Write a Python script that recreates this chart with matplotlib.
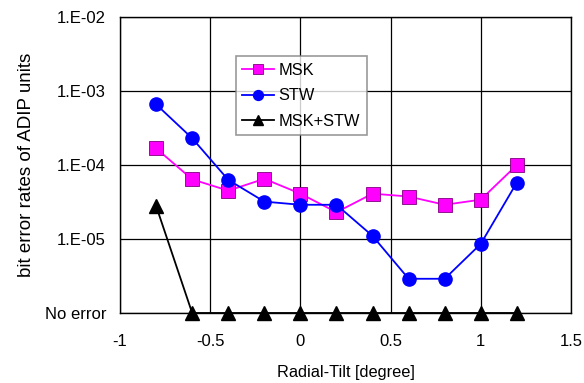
import matplotlib.pyplot as plt
from matplotlib.ticker import NullLocator

plt.rcParams["font.family"] = ["Liberation Sans", "DejaVu Sans"]

tilt = [-0.8, -0.6, -0.4, -0.2, 0.0, 0.2, 0.4, 0.6, 0.8, 1.0, 1.2]
msk = [1.68e-4, 6.4e-5, 4.5e-5, 6.5e-5, 4.1e-5, 2.3e-5, 4.1e-5, 3.75e-5, 2.9e-5, 3.4e-5, 1.0e-4]
stw = [6.6e-4, 2.3e-4, 6.3e-5, 3.2e-5, 2.9e-5, 2.9e-5, 1.1e-5, 2.9e-6, 2.9e-6, 8.6e-6, 5.8e-5]
no_err = 1e-6
both = [2.8e-5, no_err, no_err, no_err, no_err, no_err, no_err, no_err, no_err, no_err, no_err]

yticks = [1e-6, 1e-5, 1e-4, 1e-3, 1e-2]
ylabels = ["No error", "1.E-05", "1.E-04", "1.E-03", "1.E-02"]
xticks = [-1, -0.5, 0, 0.5, 1, 1.5]
xlabels = ["-1", "-0.5", "0", "0.5", "1", "1.5"]

fig = plt.figure(figsize=(5.84, 3.83), dpi=100)
ax = fig.add_axes([0.2055, 0.1828, 0.7722, 0.7728])

ax.plot(tilt, msk, color="#FF00FF", lw=1.3, marker="s", ms=9.5,
        markerfacecolor="#FF00FF", markeredgecolor="#800080", markeredgewidth=0.6,
        label="MSK", clip_on=False, zorder=4)
ax.plot(tilt, stw, color="#0000FF", lw=1.3, marker="o", ms=9.5,
        markerfacecolor="#0000FF", markeredgecolor="#0000FF",
        label="STW", clip_on=False, zorder=5)
ax.plot(tilt, both, color="black", lw=1.3, marker="^", ms=9.5,
        label="MSK+STW", clip_on=False, zorder=6)

ax.set_yscale("log")
ax.set_ylim(1e-6, 1e-2)
ax.set_xlim(-1, 1.5)
ax.set_yticks(yticks)
ax.set_yticklabels(ylabels)
ax.yaxis.set_minor_locator(NullLocator())
ax.set_xticks(xticks)
ax.set_xticklabels(xlabels)
ax.tick_params(axis="both", length=0, labelsize=12)
ax.tick_params(axis="y", pad=10)
ax.tick_params(axis="x", pad=15)
ax.grid(True, color="black", lw=0.9)
for s in ax.spines.values():
    s.set_linewidth(1.0)

ax.set_xlabel("Radial-Tilt [degree]", fontsize=11.8, labelpad=12)
ax.set_ylabel("bit error rates of ADIP units", fontsize=13.5, labelpad=7)

leg = ax.legend(loc="upper left", bbox_to_anchor=(0.257, 0.868), borderaxespad=0,
                fontsize=11.8, frameon=True, fancybox=False, edgecolor="#808080",
                handlelength=1.9, handletextpad=0.3, borderpad=0.4,
                labelspacing=0.65, markerscale=0.75)
leg.get_frame().set_linewidth(1.2)

fig.savefig("out.png", dpi=100)
